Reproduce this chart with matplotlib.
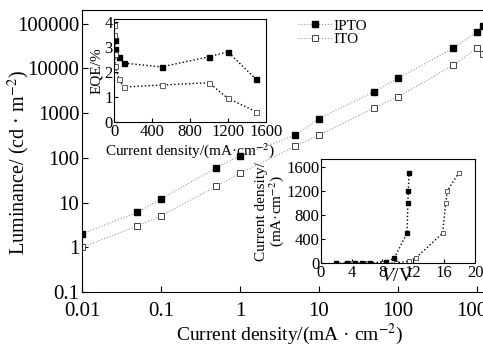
import numpy as np
import matplotlib
matplotlib.use("Agg")
import matplotlib.pyplot as plt

plt.rcParams['font.family'] = ['Liberation Serif', 'DejaVu Serif']
plt.rcParams['mathtext.fontset'] = 'stix'

# main plot: luminance vs current density
j_ipto = [0.01, 0.05, 0.1, 0.5, 1, 5, 10, 50, 100, 500, 1000, 1200, 1500]
lum_ipto = [2, 6, 12, 60, 110, 320, 750, 3000, 6000, 28000, 66000, 86000, 66000]
j_ito = [0.01, 0.05, 0.1, 0.5, 1, 5, 10, 50, 100, 500, 1000, 1200]
lum_ito = [1, 3, 5, 23, 45, 180, 320, 1300, 2300, 11700, 28000, 21000]

# inset 1: EQE vs current density
eqe_j_ipto = [5, 10, 50, 100, 500, 1000, 1200, 1500]
eqe_ipto = [3.25, 2.9, 2.6, 2.35, 2.2, 2.6, 2.8, 1.7]
eqe_j_ito = [1, 2, 5, 10, 50, 100, 500, 1000, 1200, 1500]
eqe_ito = [3.85, 3.45, 2.7, 2.25, 1.7, 1.4, 1.48, 1.57, 0.95, 0.42]

# inset 2: J-V
v_ipto = [2, 3.4, 4.4, 5.4, 6.4, 8.4, 9.5, 11.2, 11.3, 11.35, 11.45]
jv_ipto = [0, 0, 0, 0, 5, 25, 80, 500, 1000, 1200, 1500]
v_ito = [2, 4, 6, 8, 9.8, 11.4, 12.3, 15.8, 16.2, 16.4, 17.9]
jv_ito = [0, 0, 0, 0, 5, 35, 85, 500, 1000, 1200, 1500]

fig = plt.figure(figsize=(4.83, 3.48), dpi=100)
ax = fig.add_axes([0.170, 0.161, 0.86, 0.81])

ax.plot(j_ipto, lum_ipto, ls=':', lw=0.8, color='#999999', marker='s', ms=4.2,
        mfc='black', mec='black', label='IPTO')
ax.plot(j_ito, lum_ito, ls=':', lw=0.8, color='#999999', marker='s', ms=4.2,
        mfc='white', mec='#444444', mew=0.7, label='ITO')
ax.set_xscale('log')
ax.set_yscale('log')
ax.set_xlim(0.01, 1820)
ax.set_ylim(0.1, 200000)
ax.set_xticks([0.01, 0.1, 1, 10, 100, 1000])
ax.set_xticklabels(['0.01', '0.1', '1', '10', '100', '1000'])
ax.set_yticks([0.1, 1, 10, 100, 1000, 10000, 100000])
ax.set_yticklabels(['0.1', '1', '10', '100', '1000', '10000', '100000'])
ax.minorticks_off()
ax.tick_params(direction='in', length=4, labelsize=15, pad=2)
ax.tick_params(axis='x', pad=7)
ax.spines['right'].set_visible(False)
ax.set_xlabel('Current density/(mA · cm$^{-2}$)', fontsize=14, labelpad=1)
ax.set_ylabel('Luminance/ (cd · m$^{-2}$)', fontsize=14.5, labelpad=2)
ax.yaxis.set_label_coords(-0.12, 0.46)
ax.legend(loc='upper left', bbox_to_anchor=(0.495, 1.006), frameon=False, fontsize=11,
          handlelength=2.2, handletextpad=0.1, labelspacing=0.0, borderaxespad=0.3)

# inset EQE
ax1 = fig.add_axes([114.3 / 483, 1 - 122.3 / 348, 151.4 / 483, 103.3 / 348])
ax1.plot(eqe_j_ipto, eqe_ipto, ls=':', lw=1, color='black', marker='s', ms=3.6,
         mfc='black', mec='black')
ax1.plot(eqe_j_ito, eqe_ito, ls=':', lw=1, color='black', marker='s', ms=3.6,
         mfc='white', mec='#444444', mew=0.6)
ax1.set_xlim(0, 1600)
ax1.set_ylim(0, 4.1)
ax1.set_xticks([0, 400, 800, 1200, 1600])
ax1.set_yticks([0, 1, 2, 3, 4])
ax1.tick_params(direction='in', length=3, labelsize=12, pad=1)
ax1.set_xlabel('Current density/(mA·cm$^{-2}$)', fontsize=11, labelpad=1)
ax1.set_ylabel('EQE/%', fontsize=11, labelpad=1)

# inset J-V
ax2 = fig.add_axes([320.7 / 483, 1 - 263.3 / 348, 154.3 / 483, 104.3 / 348])
ax2.plot(v_ito, jv_ito, ls=':', lw=1, color='black', marker='s', ms=3.4,
         mfc='white', mec='#444444', mew=0.6)
ax2.plot(v_ipto, jv_ipto, ls=':', lw=1, color='black', marker='s', ms=3.4,
         mfc='black', mec='black')
ax2.set_xlim(0, 20)
ax2.set_ylim(0, 1730)
ax2.set_xticks([0, 4, 8, 12, 16, 20])
ax2.set_yticks([0, 400, 800, 1200, 1600])
ax2.tick_params(direction='in', length=3, labelsize=12, pad=1)
ax2.set_xlabel('$V$/V', fontsize=14, labelpad=-9)
ax2.set_ylabel('Current density/\n(mA·cm$^{-2}$)', fontsize=11, labelpad=0,
               linespacing=0.9)

fig.savefig('out.png', dpi=100)
